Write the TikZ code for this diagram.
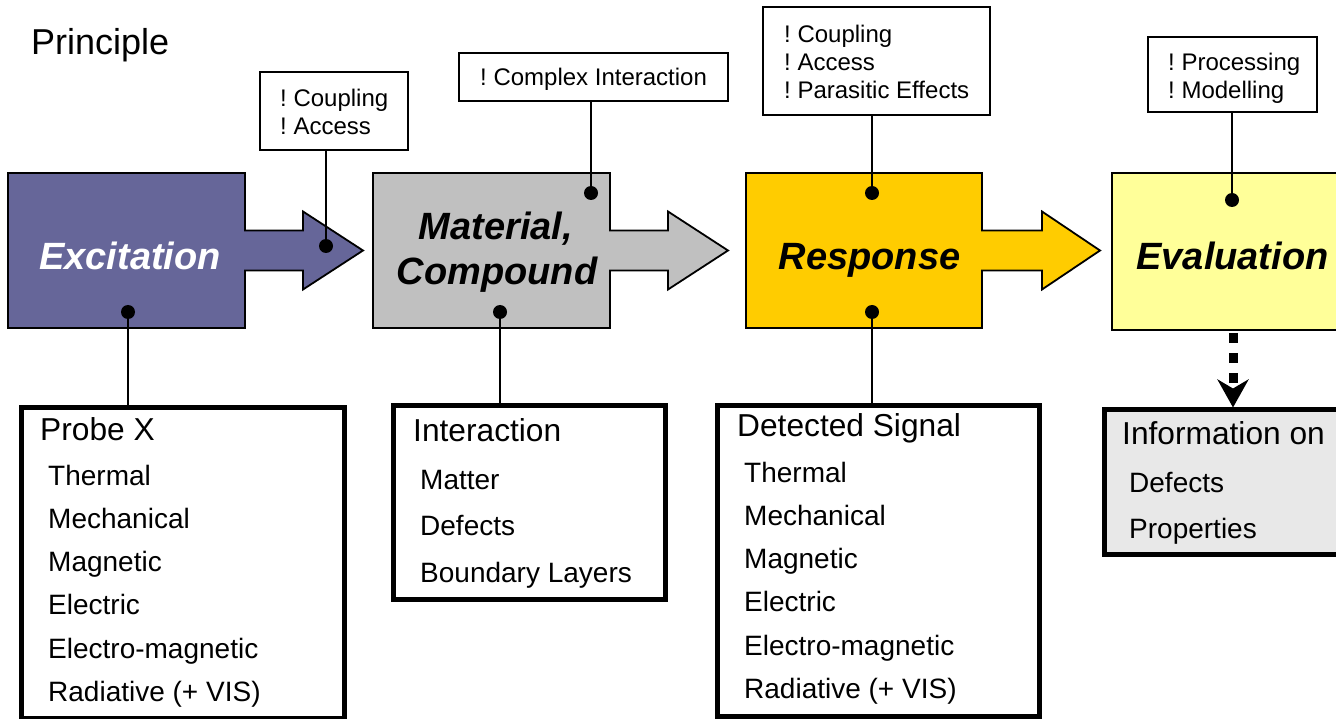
\documentclass[tikz,border=0pt]{standalone}
\usepackage{fontspec}
\setmainfont{Liberation Sans}
\usetikzlibrary{arrows.meta,calc}

\definecolor{excfill}{RGB}{102,102,153}
\definecolor{matfill}{RGB}{192,192,192}
\definecolor{respfill}{RGB}{255,204,0}
\definecolor{evfill}{RGB}{255,255,153}
\definecolor{infofill}{RGB}{232,232,232}

\begin{document}
\begin{tikzpicture}[x=1pt,y=-1pt,
  stagebox/.style={rectangle, inner sep=0pt, outer sep=0pt, minimum height=155pt},
  stageline/.style={draw=black, line width=1.8pt, line join=miter},
  stagelabel/.style={font=\fontsize{38}{40}\selectfont\bfseries\itshape, anchor=base, inner sep=0pt},
  callout/.style={draw=black, line width=1.6pt, fill=white, rectangle, inner sep=0pt, outer sep=0pt},
  callouttext/.style={anchor=west, inner sep=0pt, align=left, font=\fontsize{24}{28}\selectfont\frenchspacing},
  listbox/.style={draw=black, line width=4.5pt, fill=white, rectangle, inner sep=0pt, outer sep=0pt},
  listhead/.style={font=\fontsize{31.7}{34}\selectfont, anchor=base west, inner sep=0pt},
  listitem/.style={font=\fontsize{28}{30}\selectfont, anchor=base west, inner sep=0pt},
  dot/.style={circle, fill=black, minimum size=14pt, inner sep=0pt},
  lead/.style={line width=2.4pt}]

\useasboundingbox (0,0) rectangle (1336,719);
\clip (0,0) rectangle (1336,719);
\fill[white] (0,0) rectangle (1336,719);

% title
\node[font=\fontsize{36}{40}\selectfont, anchor=base west, inner sep=0pt] (title) at (31,55) {Principle};

% stage frames (positions only)
\node[stagebox, minimum width=237pt] (exc) at (126.5,250.5) {};
\node[stagebox, minimum width=237pt] (mat) at (491.5,250.5) {};
\node[stagebox, minimum width=236pt] (resp) at (864,250.5) {};

% stages with their outgoing block arrows
\path[stageline, fill=excfill] (exc.north west) -- (exc.north east) -- ([yshift=20pt]exc.east)
  -- ([xshift=58pt,yshift=20pt]exc.east) -- ([xshift=58pt,yshift=39pt]exc.east) -- ([xshift=118pt]exc.east)
  -- ([xshift=58pt,yshift=-39pt]exc.east) -- ([xshift=58pt,yshift=-20pt]exc.east) -- ([yshift=-20pt]exc.east)
  -- (exc.south east) -- (exc.south west) -- cycle;
\path[stageline, fill=matfill] (mat.north west) -- (mat.north east) -- ([yshift=20pt]mat.east)
  -- ([xshift=58pt,yshift=20pt]mat.east) -- ([xshift=58pt,yshift=39pt]mat.east) -- ([xshift=118pt]mat.east)
  -- ([xshift=58pt,yshift=-39pt]mat.east) -- ([xshift=58pt,yshift=-20pt]mat.east) -- ([yshift=-20pt]mat.east)
  -- (mat.south east) -- (mat.south west) -- cycle;
\path[stageline, fill=respfill] (resp.north west) -- (resp.north east) -- ([yshift=20pt]resp.east)
  -- ([xshift=60pt,yshift=20pt]resp.east) -- ([xshift=60pt,yshift=39pt]resp.east) -- ([xshift=118pt]resp.east)
  -- ([xshift=60pt,yshift=-39pt]resp.east) -- ([xshift=60pt,yshift=-20pt]resp.east) -- ([yshift=-20pt]resp.east)
  -- (resp.south east) -- (resp.south west) -- cycle;
\node[stagebox, stageline, fill=evfill, minimum width=241pt, minimum height=157pt] (eva) at (1232.5,251.5) {};

% stage labels
\node[stagelabel, text=white] (excl) at (130,270) {Excitation};
\node[stagelabel] (matl1) at (496,240) {Material,};
\node[stagelabel] (matl2) at (497,285) {Compound};
\node[stagelabel] (respl) at (869.5,270) {Response};
\node[stagelabel] (eval) at (1232.5,270) {Evaluation};

% remarks above the stages
\node[callout, minimum width=148pt, minimum height=78pt] (cb1) at (334,111) {};
\node[callout, minimum width=269pt, minimum height=48pt] (cb2) at (593.5,77) {};
\node[callout, minimum width=227pt, minimum height=108pt] (cb3) at (876.5,61) {};
\node[callout, minimum width=169pt, minimum height=75pt] (cb4) at (1232.5,74.5) {};
\node[callouttext] (cb1t) at (280,112) {! Coupling\\! Access};
\node[callouttext] (cb2t) at (480,79) {! Complex Interaction};
\node[callouttext] (cb3t) at (784,62) {! Coupling\\! Access\\! Parasitic Effects};
\node[callouttext] (cb4t) at (1168,78.5) {! Processing\\! Modelling};

% detail boxes below the stages
\node[listbox, minimum width=323pt, minimum height=311pt] (probe) at (183,563) {};
\node[listbox, minimum width=272pt, minimum height=194pt] (inter) at (529.5,502.5) {};
\node[listbox, minimum width=322pt, minimum height=311pt] (detect) at (878.5,561) {};
\node[listbox, fill=infofill, minimum width=246pt, minimum height=145pt] (info) at (1227.5,482) {};

\node[listhead] (probeh) at (40,440) {Probe X};
\foreach \t [count=\i from 0] in {{Thermal},{Mechanical},{Magnetic},{Electric},{Electro-magnetic},{Radiative (+ VIS)}}
  \node[listitem] (probe\i) at (48,{485+43.3*\i}) {\t};

\node[listhead] (interh) at (413,441) {Interaction};
\foreach \t [count=\i from 0] in {{Matter},{Defects},{Boundary Layers}}
  \node[listitem] (inter\i) at (420,{489+46.7*\i}) {\t};

\node[listhead] (detecth) at (737,436) {Detected Signal};
\foreach \t [count=\i from 0] in {{Thermal},{Mechanical},{Magnetic},{Electric},{Electro-magnetic},{Radiative (+ VIS)}}
  \node[listitem] (detect\i) at (744,{482+43.3*\i}) {\t};

\node[listhead] (infoh) at (1122,444) {Information on};
\node[listitem] (info0) at (1129,492) {Defects};
\node[listitem] (info1) at (1129,538) {Properties};

% attachment points
\coordinate (dExcB) at (128,312);
\coordinate (dExcA) at (326,246);
\coordinate (dMatT) at (591,193);
\coordinate (dMatB) at (500,312);
\coordinate (dRespT) at (872,193);
\coordinate (dRespB) at (872,312);
\coordinate (dEvT) at (1232,200);

% leader lines
\draw[lead] (dExcA) -- (dExcA |- cb1.south);
\draw[lead] (dExcB) -- (dExcB |- probe.north);
\draw[lead] (dMatT) -- (dMatT |- cb2.south);
\draw[lead] (dMatB) -- (dMatB |- inter.north);
\draw[lead] (dRespT) -- (dRespT |- cb3.south);
\draw[lead] (dRespB) -- (dRespB |- detect.north);
\draw[lead] (dEvT) -- (dEvT |- cb4.south);

% dots
\foreach \p in {dExcB,dExcA,dMatT,dMatB,dRespT,dRespB,dEvT}
  \node[dot] (\p-dot) at (\p) {};

% evaluation result arrow
\coordinate (evArrow) at (1233,0);
\draw[line width=9pt, dash pattern=on 10pt off 10pt,
  -{Stealth[length=28pt, width=31pt, inset=9pt]}]
  ([yshift=-3pt]eva.south -| evArrow) -- ([yshift=2pt]info.north -| evArrow);
\end{tikzpicture}
\end{document}
